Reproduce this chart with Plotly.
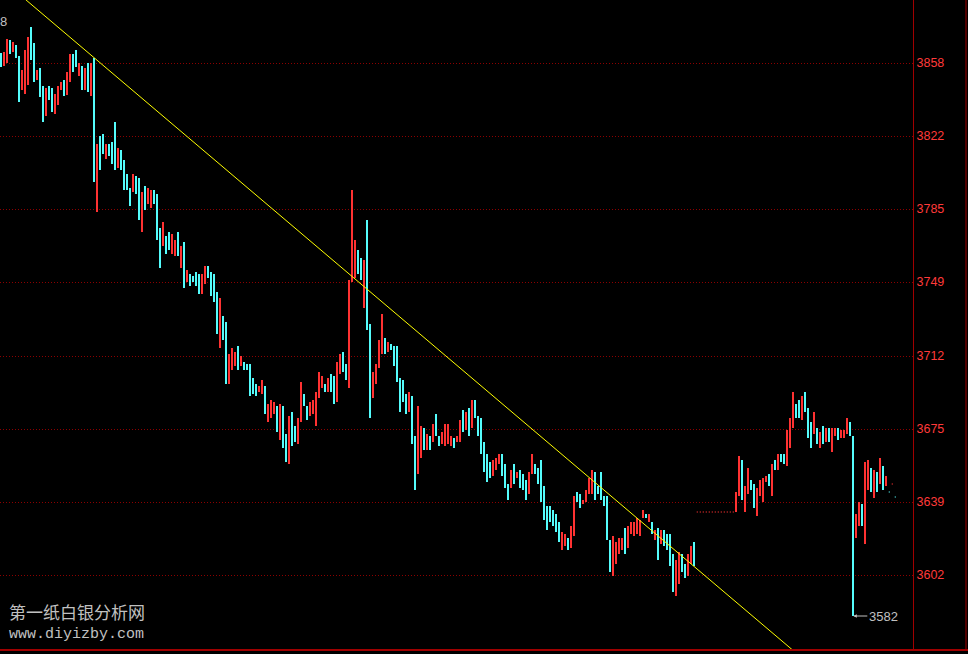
import plotly.graph_objects as go

# ---- data (candle index 0..298) ----
dirs = ("duududduuu" "dduddudduu" "uduuddudud" "ududdudddu" "dddduddudu"
        "udddudduud" "ududddduud" "dddudduuud" "uddddduudu" "uududduddu"
        "udduuuuudu" "dduudduuud" "dudduuuudu" "dddddduddu" "udududduuu"
        "uduudududd" "dddduuuddd" "ududdduudd" "ddddddduud" "uudduuuudd"
        "dddduuuudu" "uuuuududud" "udddduuddu" "uduuuuuuuu" "uuuuuuuduu"
        "dduuuududu" "dduuuddudd" "dudududuud" "uuudduuduu" "dudududud")

high = [
    3863, 3863.5, 3870, 3869.5, 3868.5, 3867, 3861.5, 3854.5, 3864.5, 3871,
    3876, 3868, 3854.5, 3855.5, 3846.5, 3845.5, 3846.5, 3845.5, 3842.5, 3846.5,
    3848.5, 3849.5, 3853.5, 3862.5, 3862.5, 3864.5, 3858, 3856.5, 3855.5, 3858,
    3858, 3860.5, 3817.5, 3821.5, 3822.5, 3817.5, 3817.5, 3818.5, 3828.5, 3815.5,
    3814.5, 3809.5, 3802.5, 3795.5, 3802.5, 3801.5, 3800.5, 3793.5, 3796.5, 3795.5,
    3794.5, 3794.5, 3792.5, 3775.5, 3778.5, 3771.5, 3773.5, 3772.5, 3769.5, 3773.5,
    3766.5, 3768.5, 3754.5, 3752.5, 3751.5, 3753.5, 3752.5, 3752.5, 3756.5, 3756.5,
    3753.5, 3752.5, 3743.5, 3740.5, 3731.5, 3728.5, 3712.5, 3715.5, 3713.5, 3716.5,
    3711.5, 3708.5, 3707.5, 3707.5, 3700.5, 3697.5, 3696.5, 3699.5, 3696.5, 3687.5,
    3689.5, 3688.5, 3686.5, 3687.5, 3686.5, 3672.5, 3681.5, 3683.5, 3676.5, 3680.5,
    3698.5, 3692.5, 3686.5, 3688.5, 3689.5, 3693.5, 3703.5, 3701.5, 3697.5, 3700.5,
    3702.5, 3701.5, 3708.5, 3712.5, 3713.5, 3707.5, 3749.5, 3794.5, 3769.5, 3764.5,
    3760.5, 3759.5, 3779.5, 3727.5, 3703.5, 3707.5, 3719.5, 3732.5, 3720.5, 3718.5,
    3717.5, 3716.5, 3716.5, 3700.5, 3699.5, 3692.5, 3693.5, 3691.5, 3671.5, 3686.5,
    3676.5, 3675.5, 3672.5, 3671.5, 3677.5, 3682.5, 3671.5, 3673.5, 3677.5, 3677.5,
    3671.5, 3670.5, 3671.5, 3679.5, 3684.5, 3683.5, 3685.5, 3689.5, 3689.5, 3681.5,
    3680.5, 3668.5, 3662.5, 3658.5, 3659.5, 3660.5, 3662.5, 3662.5, 3657.5, 3647.5,
    3654.5, 3657.5, 3653.5, 3654.5, 3652.5, 3649.5, 3653.5, 3662.5, 3657.5, 3655.5,
    3659.5, 3646.5, 3636.5, 3636.5, 3634.5, 3632.5, 3628.5, 3623.5, 3622.5, 3620.5,
    3626.5, 3641.5, 3643.5, 3642.5, 3639.5, 3644.5, 3650.5, 3654.5, 3653.5, 3646.5,
    3653.5, 3641.5, 3641.5, 3619.5, 3621.5, 3618.5, 3620.5, 3620.5, 3625.5, 3626.5,
    3628.5, 3628.5, 3630.5, 3629.5, 3634.5, 3632.5, 3632.5, 3628.5, 3624.5, 3625.5,
    3624.5, 3624.5, 3622.5, 3622.5, 3612.5, 3609.5, 3613.5, 3612.5, 3607.5, 3612.5,
    3616.5, 3618.5, 3633.5, 3633.5, 3633.5, 3633.5, 3633.5, 3633.5, 3633.5, 3633.5,
    3633.5, 3633.5, 3633.5, 3633.5, 3633.5, 3643.5, 3661.5, 3659.5, 3646.5, 3655.5,
    3649.5, 3647.5, 3645.5, 3649.5, 3650.5, 3651.5, 3652.5, 3657.5, 3659.5, 3662.5,
    3662.5, 3662.5, 3674.5, 3680.5, 3693.5, 3687.5, 3689.5, 3691.5, 3693.5, 3685.5,
    3678.5, 3683.5, 3675.5, 3673.5, 3676.5, 3675.5, 3675.5, 3675.5, 3675.5, 3675.5,
    3674.5, 3674.5, 3680.5, 3678.5, 3671.5, 3632.5, 3638.5, 3637.5, 3658.5, 3659.5,
    3655.5, 3654.5, 3653.5, 3660.5, 3656.5, 3651.5, 3643.5, 3647.5, 3641,
]

low = [
    3856, 3856.5, 3858, 3862.5, 3863.5, 3860.5, 3838.5, 3844.5, 3842.5, 3847,
    3859.5, 3848.5, 3849.5, 3841, 3828.5, 3831.5, 3839.5, 3833.5, 3832.5, 3837,
    3844.5, 3841.5, 3842, 3848.5, 3853.5, 3856, 3851.5, 3844.5, 3844.5, 3843.5,
    3841.5, 3798.5, 3783.5, 3804.5, 3812.5, 3810, 3811.5, 3807.5, 3804.5, 3805.5,
    3804.5, 3794.5, 3794.5, 3786.5, 3793.5, 3792.5, 3779.5, 3773.5, 3784.5, 3787.5,
    3785.5, 3787.5, 3769.5, 3755.5, 3766.5, 3762.5, 3764.5, 3762.5, 3761.5, 3761.5,
    3755.5, 3745.5, 3748.5, 3746.5, 3748.5, 3746.5, 3742.5, 3742.5, 3747.5, 3750.5,
    3741.5, 3738.5, 3722.5, 3715.5, 3719.5, 3697.5, 3697.5, 3704.5, 3706.5, 3704.5,
    3706.5, 3704.5, 3704.5, 3691.5, 3692.5, 3691.5, 3693.5, 3692.5, 3682.5, 3678.5,
    3680.5, 3682.5, 3673.5, 3669.5, 3665.5, 3658.5, 3657.5, 3666.5, 3668.5, 3667.5,
    3678.5, 3686.5, 3679.5, 3681.5, 3682.5, 3676.5, 3690.5, 3695.5, 3693.5, 3693.5,
    3693.5, 3687.5, 3688.5, 3702.5, 3703.5, 3699.5, 3695.5, 3748.5, 3750.5, 3752.5,
    3749.5, 3735.5, 3724.5, 3680.5, 3690.5, 3697.5, 3705.5, 3712.5, 3712.5, 3713.5,
    3714.5, 3706.5, 3698.5, 3683.5, 3688.5, 3682.5, 3683.5, 3667.5, 3644.5, 3652.5,
    3660.5, 3664.5, 3664.5, 3664.5, 3668.5, 3671.5, 3666.5, 3667.5, 3666.5, 3667.5,
    3666.5, 3665.5, 3668.5, 3668.5, 3673.5, 3674.5, 3671.5, 3675.5, 3680.5, 3671.5,
    3662.5, 3653.5, 3648.5, 3650.5, 3651.5, 3654.5, 3657.5, 3651.5, 3645.5, 3639.5,
    3645.5, 3647.5, 3650.5, 3645.5, 3644.5, 3639.5, 3642.5, 3652.5, 3652.5, 3647.5,
    3638.5, 3629.5, 3624.5, 3628.5, 3626.5, 3623.5, 3618.5, 3614.5, 3616.5, 3614.5,
    3615.5, 3621.5, 3638.5, 3635.5, 3637.5, 3638.5, 3642.5, 3642.5, 3639.5, 3642.5,
    3639.5, 3636.5, 3619.5, 3603.5, 3601.5, 3607.5, 3612.5, 3614.5, 3612.5, 3615.5,
    3622.5, 3621.5, 3622.5, 3621.5, 3630.5, 3630.5, 3628.5, 3622.5, 3619.5, 3609.5,
    3617.5, 3616.5, 3614.5, 3606.5, 3593.5, 3591.5, 3597.5, 3603.5, 3600.5, 3601.5,
    3607.5, 3606.5, 3633.5, 3633.5, 3633.5, 3633.5, 3633.5, 3633.5, 3633.5, 3633.5,
    3633.5, 3633.5, 3633.5, 3633.5, 3633.5, 3633.5, 3641.5, 3639.5, 3633.5, 3642.5,
    3644.5, 3635.5, 3631.5, 3641.5, 3638.5, 3648.5, 3646.5, 3641.5, 3654.5, 3654.5,
    3658.5, 3657.5, 3656.5, 3665.5, 3675.5, 3680.5, 3680.5, 3679.5, 3683.5, 3670.5,
    3665.5, 3672.5, 3667.5, 3665.5, 3667.5, 3668.5, 3668.5, 3663.5, 3671.5, 3669.5,
    3670.5, 3670.5, 3672.5, 3671.5, 3581.5, 3620.5, 3626.5, 3626.5, 3617.5, 3644.5,
    3643.5, 3640.5, 3643.5, 3647.5, 3644.5, 3646.5, 3643.5, 3647.5, 3641,
]

tick_values = [3858, 3821.5, 3785, 3748.5, 3711.5, 3675, 3638.5, 3602]
tick_labels = ["3858", "3822", "3785", "3749", "3712", "3675", "3639", "3602"]

trend_index = [0, 300]
trend_price = [3900.0, 3518.4]

site_name = "第一纸白银分析网"
site_url = "www.diyizby.com"

assert len(dirs) == len(high) == len(low)

UP = "#ff3232"
DOWN = "#54fcfc"
GRID = "#8c0000"
TXT = "#c0c0c0"

idx = list(range(len(high)))

fig = go.Figure()

for d, col in (("u", UP), ("d", DOWN)):
    xs = [i for i in idx if dirs[i] == d and high[i] > low[i]]
    fig.add_trace(go.Bar(
        x=xs, y=[high[i] - low[i] for i in xs], base=[low[i] for i in xs],
        width=0.34, marker=dict(color=col, line=dict(width=0)),
        hoverinfo="skip", showlegend=False))
    fx = [i for i in idx if dirs[i] == d and high[i] == low[i]]
    if fx:
        fig.add_trace(go.Scatter(
            x=fx, y=[high[i] for i in fx], mode="markers",
            marker=dict(symbol="square", size=1.2, color=col, line=dict(width=0)),
            hoverinfo="skip", showlegend=False))

fig.add_trace(go.Scatter(
    x=trend_index, y=trend_price, mode="lines",
    line=dict(color="#ffff00", width=1), hoverinfo="skip", showlegend=False))

imin = min(idx, key=lambda i: low[i])
fig.add_annotation(
    x=imin, y=low[imin], xref="x", yref="y", text=f"{low[imin]:.0f}",
    showarrow=True, arrowhead=2, arrowsize=0.7, arrowwidth=1, arrowcolor=TXT,
    ax=14, ay=0, xanchor="left", font=dict(family="Liberation Sans", size=13, color=TXT))

fig.add_annotation(x=-2 / 913, y=3879, xref="paper", yref="y", text="8", showarrow=False,
                   xanchor="left", font=dict(family="Liberation Sans", size=13, color=TXT))
fig.add_annotation(x=7 / 913, y=3584, xref="paper", yref="y", text=site_name, showarrow=False,
                   xanchor="left", yanchor="middle",
                   font=dict(family="Noto Sans CJK SC", size=17, color=TXT))
fig.add_annotation(x=7 / 913, y=3572.3, xref="paper", yref="y", text=site_url, showarrow=False,
                   xanchor="left", yanchor="middle",
                   font=dict(family="Liberation Mono", size=15, color=TXT))

fig.add_shape(type="line", xref="paper", yref="paper", x0=0, x1=1.07, y0=0, y1=0,
              line=dict(color="#a00000", width=2))
fig.add_shape(type="line", xref="paper", yref="paper", x0=966 / 913, x1=966 / 913, y0=0, y1=1,
              line=dict(color="#a00000", width=1))

fig.update_layout(
    width=968, height=654,
    margin=dict(l=0, r=55, t=0, b=4, pad=0),
    paper_bgcolor="#000000", plot_bgcolor="#000000",
    barmode="overlay", bargap=0, showlegend=False,
    xaxis=dict(range=[-0.433, 303.9], visible=False, fixedrange=True),
    yaxis=dict(range=[3564.5, 3889.5], side="right", tickmode="array",
               tickvals=tick_values, ticktext=tick_labels,
               showgrid=True, gridcolor=GRID, gridwidth=1, griddash="1px,2px",
               zeroline=False, showline=True, linecolor="#a00000", linewidth=1,
               ticks="", ticklabelstandoff=0,
               tickfont=dict(family="Liberation Sans", size=12.5, color="#ff3a3a"),
               fixedrange=True),
)

fig.write_html("out.html", config={"displayModeBar": False},
               post_script="document.body.style.margin='0';document.body.style.overflow='hidden';")
